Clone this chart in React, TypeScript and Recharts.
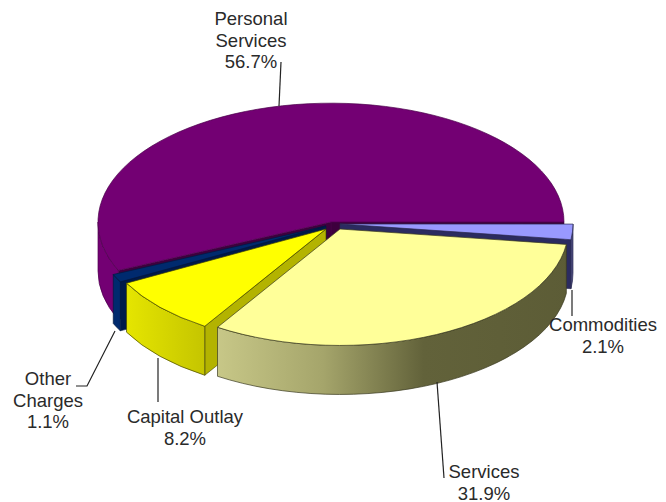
import React from "react";
import { Pie, PieChart } from "recharts";

const WIDTH = 666;
const HEIGHT = 502;

// slices in draw order, Commodities sits just below the 0 degree line
const SLICE_NAMES = [
  "Commodities",
  "Personal Services",
  "Other Charges",
  "Capital Outlay",
  "Services",
];
const SLICE_VALUES = [2.1, 56.7, 1.1, 8.2, 31.9];
const LABEL_LINES = [
  ["Commodities"],
  ["Personal", "Services"],
  ["Other", "Charges"],
  ["Capital Outlay"],
  ["Services"],
];

const START_ANGLE = -7.6;
const TILT = 0.51;
const DEPTH = 49;

const pieData = SLICE_NAMES.map((name, i) => ({
  name,
  value: SLICE_VALUES[i],
  lines: LABEL_LINES[i],
}));

const STYLES: Record<
  string,
  { top: string; wall: string; cut: string; edge: string; shift: [number, number]; scale: number }
> = {
  Commodities: { top: "#9999ff", wall: "#4d4d80", cut: "#2b2b60", edge: "#2a2a50", shift: [9, 2], scale: 1 },
  "Personal Services": { top: "#730073", wall: "#730073", cut: "#3d003d", edge: "#4a004a", shift: [0, 0], scale: 1 },
  "Other Charges": { top: "#002a6e", wall: "#002a6e", cut: "#001a4a", edge: "#001a40", shift: [-5, 4], scale: 1 },
  "Capital Outlay": { top: "#ffff00", wall: "url(#capitalWall)", cut: "#b3b300", edge: "#444400", shift: [-5, 7], scale: 0.97 },
  Services: { top: "#ffff99", wall: "url(#servicesWall)", cut: "#80804d", edge: "#3a3a20", shift: [9, 7], scale: 0.98 },
};

// label text position and leader line, in chart pixels
const LABEL_LAYOUT: Record<string, { x: number; y: number; line: string }> = {
  Commodities: { x: 603, y: 331, line: "572,290 572,316" },
  "Personal Services": { x: 251, y: 25, line: "281,62 279,106" },
  "Other Charges": { x: 48, y: 385, line: "76,386 87,386 115,331" },
  "Capital Outlay": { x: 185, y: 423, line: "158,358 158,402" },
  Services: { x: 484, y: 478, line: "437,382 444,478" },
};

const rad = (deg: number) => (deg * Math.PI) / 180;

function TiltedSlice(props: any, layer: "back" | "front") {
  const { name, cx, cy, outerRadius, startAngle, endAngle } = props;
  const isBack = name === "Personal Services";
  if (isBack !== (layer === "back")) return <g />;
  const style = STYLES[name];
  const ox = cx + style.shift[0];
  const oy = cy + style.shift[1];
  const r = outerRadius * style.scale;
  const ry = r * TILT;
  const s = startAngle < -1 ? startAngle + 360 : startAngle;
  const e = s + (endAngle - startAngle);
  const px = (a: number) => ox + r * Math.cos(rad(a));
  const py = (a: number) => oy - ry * Math.sin(rad(a));
  const large = e - s > 180 ? 1 : 0;
  const top = `M${ox},${oy} L${px(s)},${py(s)} A${r},${ry} 0 ${large} 0 ${px(e)},${py(e)} Z`;

  const cutFace = (a: number) =>
    `M${ox},${oy} L${px(a)},${py(a)} L${px(a)},${py(a) + DEPTH} L${ox},${oy + DEPTH} Z`;
  const cuts: number[] = [];
  if (Math.cos(rad(s)) > 0) cuts.push(s);
  if (Math.cos(rad(e)) < 0) cuts.push(e);

  const lo = Math.max(s, 180);
  const hi = Math.min(e, 360);
  const wall =
    hi > lo
      ? `M${px(lo)},${py(lo)} A${r},${ry} 0 0 0 ${px(hi)},${py(hi)} L${px(hi)},${py(hi) + DEPTH} A${r},${ry} 0 0 1 ${px(lo)},${py(lo) + DEPTH} Z`
      : null;

  return (
    <g>
      {cuts.map((a) => (
        <path key={a} d={cutFace(a)} fill={style.cut} stroke={style.edge} strokeWidth={0.6} />
      ))}
      {wall && <path d={wall} fill={style.wall} stroke={style.edge} strokeWidth={0.7} />}
      <path d={top} fill={style.top} stroke={style.edge} strokeWidth={0.7} />
    </g>
  );
}

function SliceLabel(props: any, layer: "back" | "front") {
  const { name, value, payload } = props;
  const isBack = name === "Personal Services";
  if (isBack !== (layer === "back")) return <g />;
  const place = LABEL_LAYOUT[name];
  const lines: string[] = props.lines ?? payload?.lines ?? [name];
  return (
    <g>
      <polyline points={place.line} fill="none" stroke="#222222" strokeWidth={1.2} />
      <text
        x={place.x}
        y={place.y}
        textAnchor="middle"
        fill="#2a2a2a"
        style={{ fontFamily: "Liberation Sans", fontSize: 18.5 }}
      >
        {lines.map((t, i) => (
          <tspan key={t} x={place.x} dy={i === 0 ? 0 : 21.5}>
            {t}
          </tspan>
        ))}
        <tspan x={place.x} dy={21.5}>
          {`${value}%`}
        </tspan>
      </text>
    </g>
  );
}

export default function App() {
  const pieProps = {
    data: pieData,
    dataKey: "value",
    nameKey: "name",
    cx: 331,
    cy: 222,
    innerRadius: 0,
    outerRadius: 233,
    startAngle: START_ANGLE,
    endAngle: START_ANGLE + 360,
    isAnimationActive: false,
    labelLine: false,
  };
  return (
    <div style={{ position: "absolute", left: 0, top: 0, width: WIDTH, height: HEIGHT, background: "#ffffff" }}>
      <PieChart width={WIDTH} height={HEIGHT} margin={{ top: 0, right: 0, bottom: 0, left: 0 }}>
        <defs>
          <linearGradient id="servicesWall" gradientUnits="userSpaceOnUse" x1={215} y1={0} x2={575} y2={0}>
            <stop offset="0" stopColor="#c8c888" />
            <stop offset="0.3" stopColor="#a5a56b" />
            <stop offset="0.58" stopColor="#62623a" />
            <stop offset="1" stopColor="#5c5c36" />
          </linearGradient>
          <linearGradient id="capitalWall" gradientUnits="userSpaceOnUse" x1={120} y1={0} x2={207} y2={0}>
            <stop offset="0" stopColor="#e8e800" />
            <stop offset="1" stopColor="#c4c400" />
          </linearGradient>
        </defs>
        {/* the large slice goes first so the exploded ones overlap its cut edge */}
        <Pie
          {...pieProps}
          shape={(p: any) => TiltedSlice(p, "back")}
          label={(p: any) => SliceLabel(p, "back")}
        />
        <Pie
          {...pieProps}
          shape={(p: any) => TiltedSlice(p, "front")}
          label={(p: any) => SliceLabel(p, "front")}
        />
      </PieChart>
    </div>
  );
}
